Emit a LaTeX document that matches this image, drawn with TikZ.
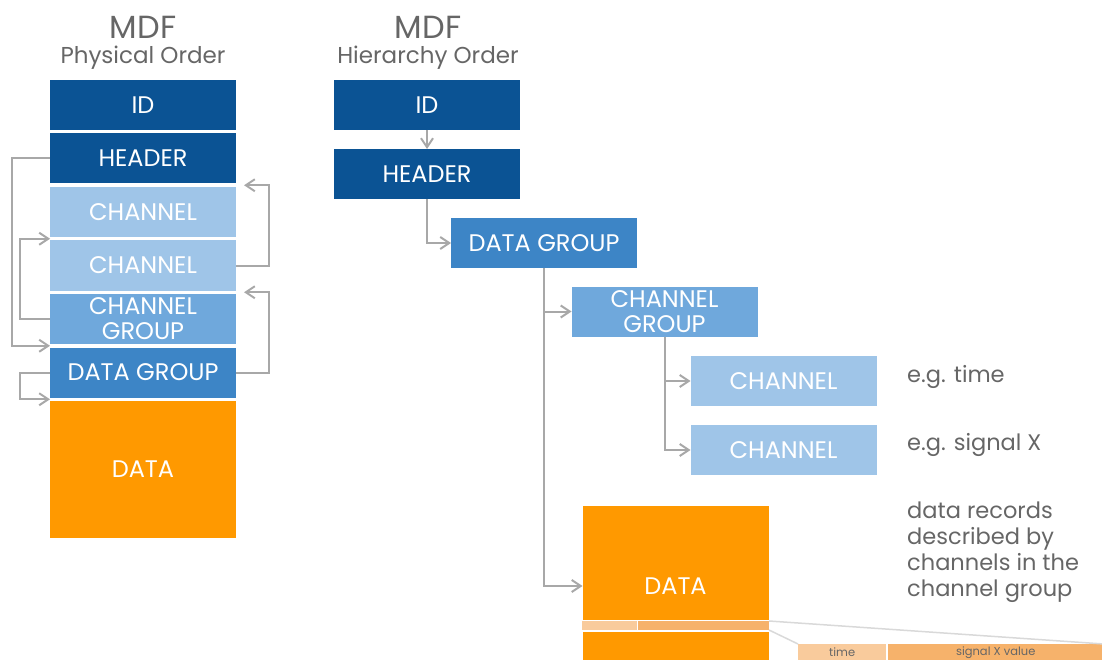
\documentclass[tikz,border=0pt]{standalone}
\usepackage{fontspec}
\setmainfont{Poppins}
\usetikzlibrary{positioning, arrows.meta, calc}

\definecolor{mdfdark}{HTML}{0B5394}
\definecolor{mdfmid}{HTML}{3D85C6}
\definecolor{mdfgroup}{HTML}{6FA8DC}
\definecolor{mdflight}{HTML}{9FC5E8}
\definecolor{mdforange}{HTML}{FF9900}
\definecolor{cellpale}{HTML}{F9CB9C}
\definecolor{cellmid}{HTML}{F6B26B}
\definecolor{textgray}{HTML}{666666}
\definecolor{linkgray}{HTML}{A8A8A8}

\tikzset{
  block/.style={minimum width=186pt, minimum height=50pt, inner sep=0pt, outer sep=0pt,
    text=white, align=center, font=\fontsize{24}{25}\selectfont},
  link/.style={-{Straight Barb[length=9pt,width=12pt]}, line width=2pt, draw=linkgray},
  note/.style={text=textgray, font=\fontsize{22.5}{26}\selectfont, inner sep=0pt}
}

\begin{document}
\begin{tikzpicture}[x=1pt, y=-1pt]
        \useasboundingbox (0,0) rectangle (1102,660);

        % physical order
        \node[note, font=\fontsize{32}{34}\selectfont] (p_title) at (143,27) {MDF};
        \node[note, font=\fontsize{23}{26}\selectfont] (p_sub) at (143,58) {Physical Order};
        \node[block, fill=mdfdark] (p_id) at (143,105) {ID};
        \node[block, fill=mdfdark, below=3.5pt of p_id] (p_header) {HEADER};
        \node[block, fill=mdflight, below=3.5pt of p_header] (p_ch1) {CHANNEL};
        \node[block, fill=mdflight, below=3.5pt of p_ch1] (p_ch2) {CHANNEL};
        \node[block, fill=mdfgroup, below=3.5pt of p_ch2] (p_cg) {CHANNEL\\GROUP};
        \node[block, fill=mdfmid, below=3.5pt of p_cg] (p_dg) {DATA GROUP};
        \node[block, fill=mdforange, minimum height=137pt, below=3.5pt of p_dg] (p_data) {DATA};

        \draw[link] (p_header.west) -- ++(-38,0) |- ($(p_cg.south west)!.5!(p_dg.north west)$);
        \draw[link] (p_cg.west) -- ++(-30,0) |- ($(p_ch1.south west)!.5!(p_ch2.north west)$);
        \draw[link] (p_dg.west) -- ++(-30,0) |- ($(p_dg.south west)!.5!(p_data.north west)$);
        \draw[link] (p_ch2.east) -- ++(33,0) |- ($(p_header.south east)!.5!(p_ch1.north east)+(8,0)$);
        \draw[link] (p_dg.east) -- ++(33,0) |- ($(p_ch2.south east)!.5!(p_cg.north east)+(8,0)$);

        % hierarchy order
        \node[note, font=\fontsize{32}{34}\selectfont] (h_title) at (428,27) {MDF};
        \node[note, font=\fontsize{23}{26}\selectfont] (h_sub) at (428,58) {Hierarchy Order};
        \node[block, fill=mdfdark] (h_id) at (427,105) {ID};
        \node[block, fill=mdfdark] (h_header) at (427,174) {HEADER};
        \node[block, fill=mdfmid] (h_dg) at (544,243) {DATA GROUP};
        \node[block, fill=mdfgroup] (h_cg) at (664.5,311.5) {CHANNEL\\GROUP};
        \node[block, fill=mdflight] (h_ch1) at (783.5,381) {CHANNEL};
        \node[block, fill=mdflight] (h_ch2) at (783.5,450) {CHANNEL};
        \node[block, fill=mdforange, minimum height=160pt] (h_data) at (675.5,586) {DATA};

        \draw[link] (h_id) -- (h_header);
        \draw[link] (h_header.south) |- (h_dg.west);
        \draw[link] (h_dg.south) |- (h_cg.west);
        \draw[link] (h_dg.south) |- (h_data.west);
        \draw[link] (h_cg.south) |- (h_ch1.west);
        \draw[link] (h_cg.south) |- (h_ch2.west);

        \node[note, anchor=west] (h_time) at (907,377) {e.g. time};
        \node[note, anchor=west] (h_signal) at (907,445) {e.g. signal X};
        \node[note, anchor=north west, align=left] (h_records) at (907,502)
            {data records\\described by\\channels in the\\channel group};

        % one record of the data block
        \fill[white] (582,619.5) rectangle (769,631.5);
        \fill[cellpale] (582,621) rectangle (636.5,629.5);
        \fill[cellmid] (638,621) rectangle (769,629.5);
        \coordinate (rec_top) at (769,621);
        \coordinate (rec_bot) at (769,630);

        \node[fill=cellpale, minimum width=88pt, minimum height=16pt, inner sep=0pt, anchor=north west,
          text=textgray, font=\fontsize{11.5}{12}\selectfont] (cell_time) at (798,644) {time};
        \node[fill=cellmid, minimum width=216pt, minimum height=16pt, inner sep=0pt, anchor=north west,
          text=textgray, font=\fontsize{11.5}{12}\selectfont] (cell_signal) at (887.5,644) {signal X value};

        \draw[line width=1.5pt, draw=black!15] (rec_top) -- (cell_signal.north east);
        \draw[line width=1.5pt, draw=black!15] (rec_bot) -- (cell_time.north west);
    \end{tikzpicture}
\end{document}
